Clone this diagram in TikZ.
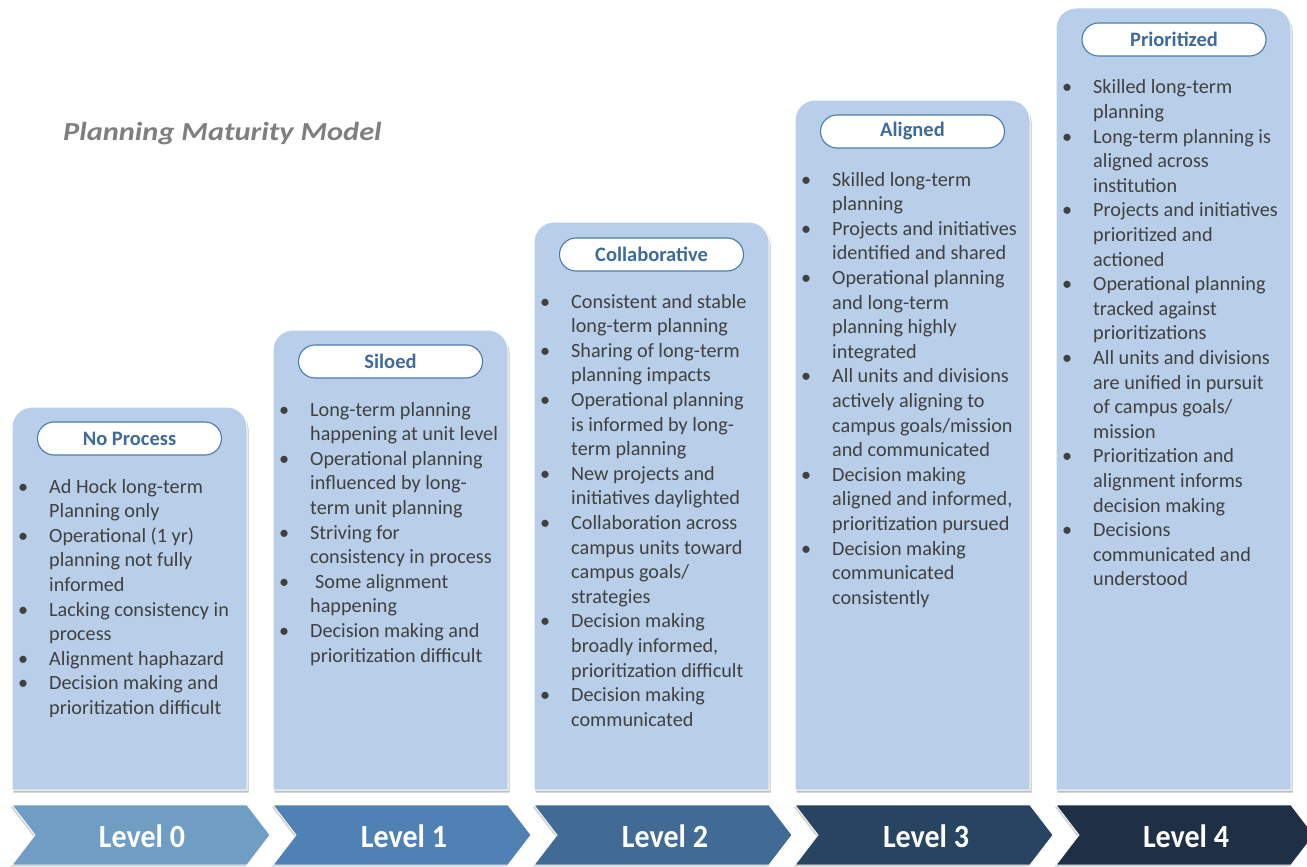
\documentclass[tikz,border=0pt]{standalone}
\usepackage{fontspec}
\setmainfont{Carlito}
\usetikzlibrary{shadows}
\definecolor{boxfill}{RGB}{185,207,233}
\definecolor{pillborder}{RGB}{74,122,174}
\definecolor{pilltext}{RGB}{62,106,156}
\definecolor{bodygray}{RGB}{64,64,64}
\definecolor{titlegray}{RGB}{127,127,127}
\definecolor{lvA}{RGB}{112,157,196}
\definecolor{lvB}{RGB}{79,129,180}
\definecolor{lvC}{RGB}{65,106,148}
\definecolor{lvD}{RGB}{41,68,96}
\definecolor{lvE}{RGB}{31,48,70}
\newcommand{\bu}{\textbullet &}
\newcommand{\nb}{&}
\tikzset{
  colbox/.style={fill=boxfill, draw=white, line width=1pt,
    drop shadow={shadow xshift=1.5pt, shadow yshift=-2.5pt, opacity=0.45, fill=black!55}},
  pill/.style={draw=pillborder, fill=white, line width=1.1pt, rounded corners=16.5pt,
    minimum width=184pt, minimum height=33pt, inner sep=0pt,
    font=\fontsize{20.5}{22}\selectfont\bfseries, text=pilltext},
  bodytext/.style={anchor=base west, inner sep=0pt, text=bodygray,
    font=\fontsize{20.2}{24.6}\selectfont},
  chev/.style={draw=white, line width=0.8pt,
    drop shadow={shadow xshift=-1.5pt, shadow yshift=-1.5pt, opacity=0.35, fill=black!50}},
  lvtext/.style={text=white, font=\fontsize{30}{32}\selectfont\bfseries, inner sep=0pt},
  titletext/.style={anchor=base west, inner sep=0pt, text=titlegray,
    font=\fontsize{26}{30}\selectfont\bfseries\itshape}
}
\newcommand{\colshape}[2]{% left x, top y
  \path[colbox] (#1,790) -- ({#1},{#2+20}) arc[start angle=180,end angle=270,radius=20]
    -- ({#1+215},#2) arc[start angle=270,end angle=360,radius=20] -- ({#1+235},790) -- cycle;}
\newcommand{\chevshape}[2]{% left x, colour
  \path[chev, fill=#2] (#1,805) -- ({#1+235},805) -- ({#1+258},835) -- ({#1+235},865)
    -- (#1,865) -- ({#1+23},835) -- cycle;}
\begin{document}
\begin{tikzpicture}[x=1pt,y=-1pt]
\useasboundingbox (0,0) rectangle (1307,867);
\fill[white] (0,0) rectangle (1307,867);

\node[titletext] (title) at (63,140) {\scalebox{1.17}[1]{Planning Maturity Model}};

% column boxes
\colshape{12}{407}
\colshape{273}{330}
\colshape{534}{222}
\colshape{795}{100}
\colshape{1056}{8}

% header pills
\node[pill] (p0) at (129.5,438.5) {No Process};
\node[pill] (p1) at (390.5,361.5) {Siloed};
\node[pill] (p2) at (651.5,254.5) {Collaborative};
\node[pill] (p3) at (912.5,131.5) {Aligned};
\node[pill] (p4) at (1174,39.5) {Prioritized};

% body texts
\node[bodytext] (t0) at (18,493) {\begin{tabular}[t]{@{}p{31pt}@{}l@{}}
\bu Ad Hock long-term\\ \nb Planning only\\
\bu Operational (1 yr)\\ \nb planning not fully\\ \nb informed\\
\bu Lacking consistency in\\ \nb process\\
\bu Alignment haphazard\\
\bu Decision making and\\ \nb prioritization difficult
\end{tabular}};

\node[bodytext] (t1) at (279,416) {\begin{tabular}[t]{@{}p{31pt}@{}l@{}}
\bu Long-term planning\\ \nb happening at unit level\\
\bu Operational planning\\ \nb influenced by long-\\ \nb term unit planning\\
\bu Striving for\\ \nb consistency in process\\
\bu \hspace{5pt}Some alignment\\ \nb happening\\
\bu Decision making and\\ \nb prioritization difficult
\end{tabular}};

\node[bodytext] (t2) at (540,308) {\begin{tabular}[t]{@{}p{31pt}@{}l@{}}
\bu Consistent and stable\\ \nb long-term planning\\
\bu Sharing of long-term\\ \nb planning impacts\\
\bu Operational planning\\ \nb is informed by long-\\ \nb term planning\\
\bu New projects and\\ \nb initiatives daylighted\\
\bu Collaboration across\\ \nb campus units toward\\ \nb campus goals/\\ \nb strategies\\
\bu Decision making\\ \nb broadly informed,\\ \nb prioritization difficult\\
\bu Decision making\\ \nb communicated
\end{tabular}};

\node[bodytext] (t3) at (801,186) {\begin{tabular}[t]{@{}p{31pt}@{}l@{}}
\bu Skilled long-term\\ \nb planning\\
\bu Projects and initiatives\\ \nb identified and shared\\
\bu Operational planning\\ \nb and long-term\\ \nb planning highly\\ \nb integrated\\
\bu All units and divisions\\ \nb actively aligning to\\ \nb campus goals/mission\\ \nb and communicated\\
\bu Decision making\\ \nb aligned and informed,\\ \nb prioritization pursued\\
\bu Decision making\\ \nb communicated\\ \nb consistently
\end{tabular}};

\node[bodytext] (t4) at (1062,94) {\begin{tabular}[t]{@{}p{31pt}@{}l@{}}
\bu Skilled long-term\\ \nb planning\\
\bu Long-term planning is\\ \nb aligned across\\ \nb institution\\
\bu Projects and initiatives\\ \nb prioritized and\\ \nb actioned\\
\bu Operational planning\\ \nb tracked against\\ \nb prioritizations\\
\bu All units and divisions\\ \nb are unified in pursuit\\ \nb of campus goals/\\ \nb mission\\
\bu Prioritization and\\ \nb alignment informs\\ \nb decision making\\
\bu Decisions\\ \nb communicated and\\ \nb understood
\end{tabular}};

% chevrons
\chevshape{12}{lvA}
\chevshape{273}{lvB}
\chevshape{534}{lvC}
\chevshape{795}{lvD}
\chevshape{1056}{lvE}
\node[lvtext] (l0) at (142,836) {\scalebox{1}[1.08]{Level 0}};
\node[lvtext] (l1) at (404,836) {\scalebox{1}[1.08]{Level 1}};
\node[lvtext] (l2) at (665,836) {\scalebox{1}[1.08]{Level 2}};
\node[lvtext] (l3) at (926,836) {\scalebox{1}[1.08]{Level 3}};
\node[lvtext] (l4) at (1186,836) {\scalebox{1}[1.08]{Level 4}};
\end{tikzpicture}
\end{document}
